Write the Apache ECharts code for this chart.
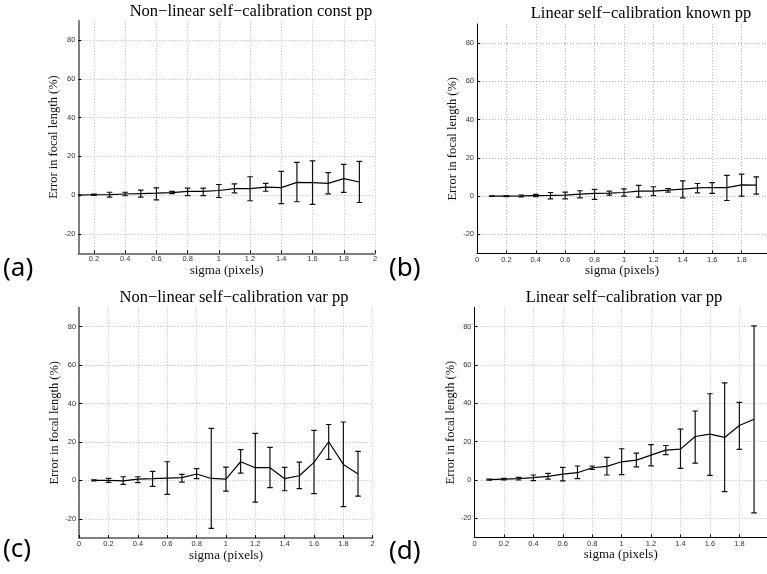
<!DOCTYPE html>
<html>
<head>
<meta charset="utf-8">
<script src="https://cdn.jsdelivr.net/npm/echarts@6/dist/echarts.min.js"></script>
<style>html,body{margin:0;padding:0;background:#fff}#c{width:767px;height:574px}</style>
</head>
<body>
<div id="c"></div>
<script>
// sigma values (pixels)
const sigma = [0.1,0.2,0.3,0.4,0.5,0.6,0.7,0.8,0.9,1.0,1.1,1.2,1.3,1.4,1.5,1.6,1.7,1.8,1.9];

// (a) Non-linear self-calibration const pp
const meanA = [0,0.2,0.3,0.6,0.8,1.0,1.3,1.9,1.9,2.4,3.4,3.4,4.1,3.9,6.6,6.5,6.1,8.5,6.8];
const lowA  = [-0.2,-0.1,-1.0,-0.3,-1.0,-2.4,0.8,-0.2,-0.2,-1.2,1.2,-2.9,2.0,-4.4,-3.4,-4.8,0.7,1.4,-3.8];
const highA = [0.2,0.5,1.5,1.5,2.6,3.8,1.9,3.6,3.6,5.5,5.8,9.5,6.1,12.3,16.9,17.7,11.6,15.9,17.4];

// (b) Linear self-calibration known pp
const meanB = [0,0,0.1,0.3,0.35,0.5,1.0,1.4,1.6,1.9,2.6,2.6,3.1,3.7,4.3,4.5,4.4,5.9,5.7];
const lowB  = [-0.1,-0.3,-0.4,-0.3,-1.4,-1.4,-0.9,-1.7,0.5,0,-0.5,0.3,2.1,-0.9,1.7,1.4,-2.3,0,1.0];
const highB = [0.1,0.3,0.6,0.9,1.9,2.1,2.8,3.5,2.6,3.8,5.6,4.9,4.0,8.0,6.6,7.1,10.8,11.5,10.1];

// (c) Non-linear self-calibration var pp
const meanC = [0,0,-0.3,0.7,0.9,1.2,1.4,3.3,1.0,0.7,9.7,6.6,6.6,0.9,2.4,9.4,20.1,8.3,3.3];
const lowC  = [-0.3,-1.0,-2.1,-1.2,-3.1,-7.3,-0.9,0.9,-25.0,-5.6,3.8,-11.3,-3.8,-5.4,-4.3,-6.9,10.9,-13.7,-8.2];
const highC = [0.3,1.0,1.9,1.9,4.7,9.7,3.1,6.1,27.1,6.9,16.0,24.5,17.2,6.8,9.5,26.0,29.1,30.4,15.1];

// (d) Linear self-calibration var pp
const meanD = [0.2,0.5,0.7,1.2,1.9,3.1,3.8,6.4,7.1,9.5,10.4,13.0,15.6,16.1,22.7,23.9,22.2,28.4,31.7];
const lowD  = [-0.1,0.1,0,-0.3,0.5,-0.5,0.7,5.5,2.6,2.8,6.8,7.4,13.2,6.1,8.8,2.4,-6.1,16.0,-17.1];
const highD = [0.5,0.9,1.4,2.6,3.5,6.6,7.3,7.3,11.8,16.3,14.0,18.5,18.0,26.5,36.0,45.0,50.7,40.5,80.4];

// tick labels
const yTicks = [-20,0,20,40,60,80];
const xTicksA = [0.2,0.4,0.6,0.8,1,1.2,1.4,1.6,1.8,2];
const xTicksC = [0,0.2,0.4,0.6,0.8,1,1.2,1.4,1.6,1.8,2];
const xTicksBD = [0,0.2,0.4,0.6,0.8,1,1.2,1.4,1.6,1.8];

const titles = ['Non\u2212linear self\u2212calibration const pp','Linear self\u2212calibration known pp','Non\u2212linear self\u2212calibration var pp','Linear self\u2212calibration var pp'];
const panelLabels = ['(a)','(b)','(c)','(d)'];
const xName = 'sigma (pixels)';
const yName = 'Error in focal length (%)';

const panels = [
  {mean:meanA, low:lowA, high:highA, xmin:0.1, xmax:2, xticks:xTicksA, grid:{left:78.3, top:20.7, width:296.7, height:232.6}, axisColor:'#555', axisW:1.5, yGap:7},
  {mean:meanB, low:lowB, high:highB, xmin:0, xmax:1.973, xticks:xTicksBD, grid:{left:477, top:24, width:290, height:229.5}, axisColor:'#000', axisW:1, yGap:9},
  {mean:meanC, low:lowC, high:highC, xmin:0, xmax:2, xticks:xTicksC, grid:{left:79.2, top:307.5, width:293.5, height:230.5}, axisColor:'#555', axisW:1.5, yGap:7},
  {mean:meanD, low:lowD, high:highD, xmin:0, xmax:1.988, xticks:xTicksBD, grid:{left:474.5, top:307.5, width:292.5, height:230}, axisColor:'#000', axisW:1, yGap:9}
];

const tickFont = {fontFamily:'Liberation Sans', fontSize:7.5, color:'#333'};
const serif = 'Liberation Serif';

function renderErr(params, api){
  const x = api.value(0), lo = api.value(1), hi = api.value(2);
  const p1 = api.coord([x, hi]), p2 = api.coord([x, lo]);
  const w = 2.8;
  const style = {stroke:'#111', lineWidth:1.2};
  return {type:'group', children:[
    {type:'line', shape:{x1:p1[0], y1:p1[1], x2:p2[0], y2:p2[1]}, style:style},
    {type:'line', shape:{x1:p1[0]-w, y1:p1[1], x2:p1[0]+w, y2:p1[1]}, style:style},
    {type:'line', shape:{x1:p2[0]-w, y1:p2[1], x2:p2[0]+w, y2:p2[1]}, style:style}
  ]};
}

const grid = [], xAxis = [], yAxis = [], series = [], graphic = [];
panels.forEach((p, i) => {
  grid.push(Object.assign({containLabel:false}, p.grid));
  const gridLine = {show:true, lineStyle:{color:'#b8b8b8', type:[1,2], width:1}};
  xAxis.push({
    type:'value', gridIndex:i, min:p.xmin, max:p.xmax,
    axisLine:{show:true, onZero:false, lineStyle:{color:p.axisColor, width:p.axisW}},
    axisTick:{show:true, inside:true, length:3, customValues:p.xticks, lineStyle:{color:'#000'}},
    axisLabel:Object.assign({margin:2, customValues:p.xticks, formatter:v => String(v)}, tickFont),
    splitLine:gridLine,
    name:xName, nameLocation:'middle', nameGap:9,
    nameTextStyle:{fontFamily:serif, fontSize:13, color:'#111'}
  });
  yAxis.push({
    type:'value', gridIndex:i, min:-30, max:90,
    axisLine:{show:true, lineStyle:{color:p.axisColor, width:p.axisW}},
    axisTick:{show:true, inside:true, length:3, customValues:yTicks, lineStyle:{color:'#000'}},
    axisLabel:Object.assign({margin:3, customValues:yTicks}, tickFont),
    splitLine:gridLine,
    name:yName, nameLocation:'middle', nameGap:p.yGap,
    nameTextStyle:{fontFamily:serif, fontSize:12.5, color:'#111'}
  });
  series.push({
    type:'line', xAxisIndex:i, yAxisIndex:i, symbol:'none', silent:true,
    lineStyle:{color:'#000', width:1.2},
    data: sigma.map((x, k) => [x, p.mean[k]]), z:3
  });
  series.push({
    type:'custom', xAxisIndex:i, yAxisIndex:i, renderItem:renderErr, clip:true, silent:true,
    encode:{x:0, y:[1,2]},
    data: sigma.map((x, k) => [x, p.low[k], p.high[k]]), z:4
  });
  graphic.push({
    type:'text', x: [251,641,234,624][i], y: [12,14,298,298][i],
    style:{text:titles[i], font:'16.5px "Liberation Serif"', fill:'#000', align:'center', verticalAlign:'middle'}
  });
  graphic.push({
    type:'text', x: [3,389,3,389][i], y: [269,269,550,552][i],
    style:{text:panelLabels[i], font:'26px "Noto Sans"', fill:'#000', align:'left', verticalAlign:'middle'}
  });
});

const chart = echarts.init(document.getElementById('c'), null, {renderer:'canvas'});
chart.setOption({
  animation:false,
  backgroundColor:'#fff',
  grid:grid, xAxis:xAxis, yAxis:yAxis, series:series, graphic:graphic
});
</script>
</body>
</html>
